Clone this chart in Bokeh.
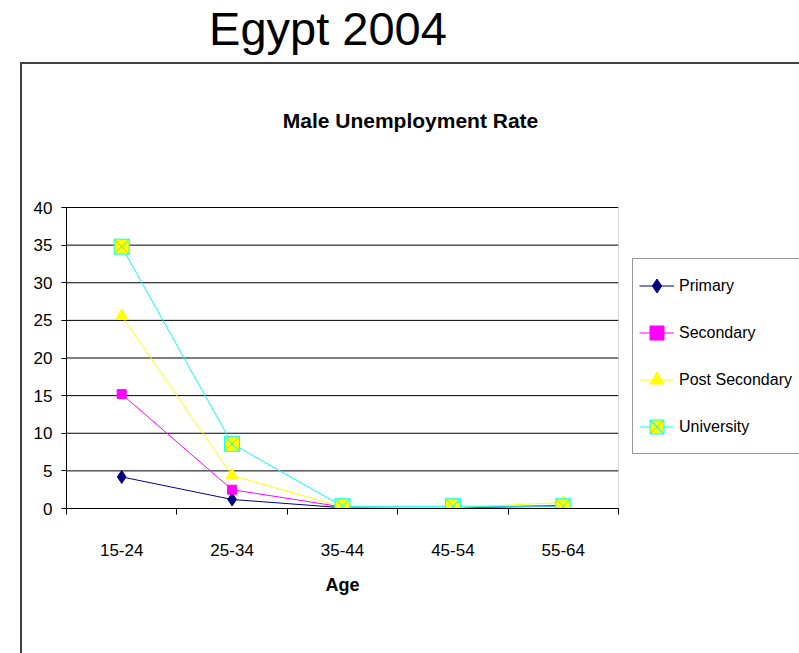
from bokeh.plotting import figure
from bokeh.layouts import row
from bokeh.models import (Range1d, FixedTicker, Legend, LegendItem, Label, BoxAnnotation, InlineStyleSheet)
from bokeh.embed import file_html
from bokeh.resources import INLINE

# ---- data ----
ages = ["15-24", "25-34", "35-44", "45-54", "55-64"]
primary = [4.2, 1.2, 0.1, 0.1, 0.4]
secondary = [15.2, 2.5, 0.2, 0.1, 0.3]
post_secondary = [25.6, 4.4, 0.2, 0.1, 0.8]
university = [34.8, 8.6, 0.3, 0.3, 0.3]
y_ticks = [0, 5, 10, 15, 20, 25, 30, 35, 40]

main_title = "Egypt 2004"
chart_title = "Male Unemployment Rate"
x_label = "Age"

FONT = "Liberation Sans"

# ---- layout (pixels) ----
W, H = 799, 653
AREA_L, AREA_R, AREA_T, AREA_B = 66, 618, 207, 508   # plotting area in the page
MAIN_W = 632
n = len(ages)
ymax = y_ticks[-1]
px_per_x = (AREA_R - AREA_L) / n
px_per_y = (AREA_B - AREA_T) / ymax

xs = [i + 0.5 for i in range(n)]
bounds = [float(i) for i in range(n + 1)]

# the frame is stretched up to the top edge so that the titles (which live in
# the frame) are not clipped; the data area keeps its size
p = figure(width=MAIN_W, height=H,
           x_range=Range1d(0, n),
           y_range=Range1d(0, AREA_B / px_per_y),
           output_backend="svg", toolbar_location=None, title_location=None,
           min_border_left=AREA_L, min_border_right=MAIN_W - AREA_R,
           min_border_top=0, min_border_bottom=H - AREA_B)
p.background_fill_color = "white"
p.border_fill_color = "white"
p.outline_line_color = None
p.xgrid.visible = False
p.ygrid.visible = False

# x axis: labels at category centres, tick marks at category boundaries
xax = p.xaxis[0]
xax.bounds = (0, n)
xax.ticker = FixedTicker(ticks=xs, minor_ticks=bounds)
xax.major_label_overrides = {x: a for x, a in zip(xs, ages)}
xax.major_tick_out = 0
xax.major_tick_in = 0
xax.minor_tick_out = 6
xax.minor_tick_in = 0
xax.minor_tick_line_color = "#000000"
xax.axis_line_color = "#000000"
xax.major_label_standoff = 29
xax.major_label_text_font = FONT
xax.major_label_text_font_size = "17px"
xax.major_label_text_color = "#000000"
xax.axis_label = x_label
xax.axis_label_text_font = FONT
xax.axis_label_text_font_style = "bold"
xax.axis_label_text_font_size = "18px"
xax.axis_label_text_color = "#000000"
xax.axis_label_standoff = 16

yax = p.yaxis[0]
yax.bounds = (0, ymax)
yax.ticker = FixedTicker(ticks=y_ticks)
yax.major_tick_out = 5
yax.major_tick_in = 0
yax.minor_tick_out = 0
yax.minor_tick_in = 0
yax.axis_line_color = "#000000"
yax.major_tick_line_color = "#000000"
yax.major_label_standoff = 9
yax.major_label_text_font = FONT
yax.major_label_text_font_size = "17px"
yax.major_label_text_color = "#000000"

# horizontal grid lines across the data area and its border
p.segment(x0=[0] * len(y_ticks), x1=[n] * len(y_ticks), y0=y_ticks, y1=y_ticks,
          line_color="#000000", line_width=1)
p.add_layout(BoxAnnotation(left=0, right=n, bottom=0, top=ymax,
                           fill_alpha=0, line_color="#000000", line_width=1))

series = [
    ("Primary", primary, "#000080", "diamond", "#000080", "#000080", 13),
    ("Secondary", secondary, "#FF00FF", "square", "#FF00FF", "#FF00FF", 9),
    ("Post Secondary", post_secondary, "#FFFF00", "triangle", "#FFFF00", "#FFFF00", 12),
    ("University", university, "#00FFFF", "square_x", "#FFFF00", "#00FFFF", 15),
]

for name, vals, col, mk, fill, lcol, sz in series:
    p.line(xs, vals, line_color=col, line_width=1)
    p.scatter(xs, vals, marker=mk, size=sz, fill_color=fill, line_color=lcol, line_width=1)

# titles (positions converted from page pixels to data units)
p.add_layout(Label(x=(327.5 - AREA_L) / px_per_x, y=(AREA_B - 28) / px_per_y,
                   text=main_title, text_font=FONT, text_font_size="47px",
                   text_color="#000000", text_align="center", text_baseline="alphabetic"))
p.add_layout(Label(x=(410 - AREA_L) / px_per_x, y=(AREA_B - 120) / px_per_y,
                   text=chart_title, text_font=FONT, text_font_style="bold",
                   text_font_size="21px", text_color="#000000",
                   text_align="center", text_baseline="alphabetic"))

# ---- legend panel beside the plot: the same series, drawn out of view ----
lg = figure(width=W - MAIN_W, height=H, output_backend="svg", toolbar_location=None,
            title_location=None, x_axis_type=None, y_axis_type=None,
            x_range=Range1d(-2, -1), y_range=Range1d(0, ymax),
            min_border_left=0, min_border_right=0, min_border_top=0, min_border_bottom=0)
lg.outline_line_color = None
lg.background_fill_color = "white"
lg.border_fill_color = "white"
lg.xgrid.visible = False
lg.ygrid.visible = False

items = []
for name, vals, col, mk, fill, lcol, sz in series:
    lr = lg.line(xs, vals, line_color=col, line_width=1)
    sr = lg.scatter(xs, vals, marker=mk, size=sz, fill_color=fill, line_color=lcol, line_width=1)
    items.append(LegendItem(label=name, renderers=[lr, sr]))

legend = Legend(items=items, location=(0, 54))
legend.label_text_font = FONT
legend.label_text_font_size = "16px"
legend.label_text_color = "#000000"
legend.glyph_width = 35
legend.glyph_height = 41
legend.label_height = 41
legend.label_width = 130
legend.label_standoff = 5
legend.spacing = 6
legend.padding = 6
legend.margin = 0
legend.border_line_color = "#333333"
legend.border_line_width = 1
legend.background_fill_color = "white"
legend.background_fill_alpha = 1
lg.add_layout(legend)

layout = row(p, lg, spacing=0)

# outer chart frame (left and top edges visible), drawn with CSS
layout.stylesheets = [InlineStyleSheet(css="""
:host::after {
  content: ""; position: absolute; left: 20px; top: 62px; right: 0; bottom: 0;
  border-left: 2px solid #404040; border-top: 2px solid #404040;
  pointer-events: none; z-index: 10;
}
""")]

open("out.html", "w").write(file_html(layout, INLINE))
